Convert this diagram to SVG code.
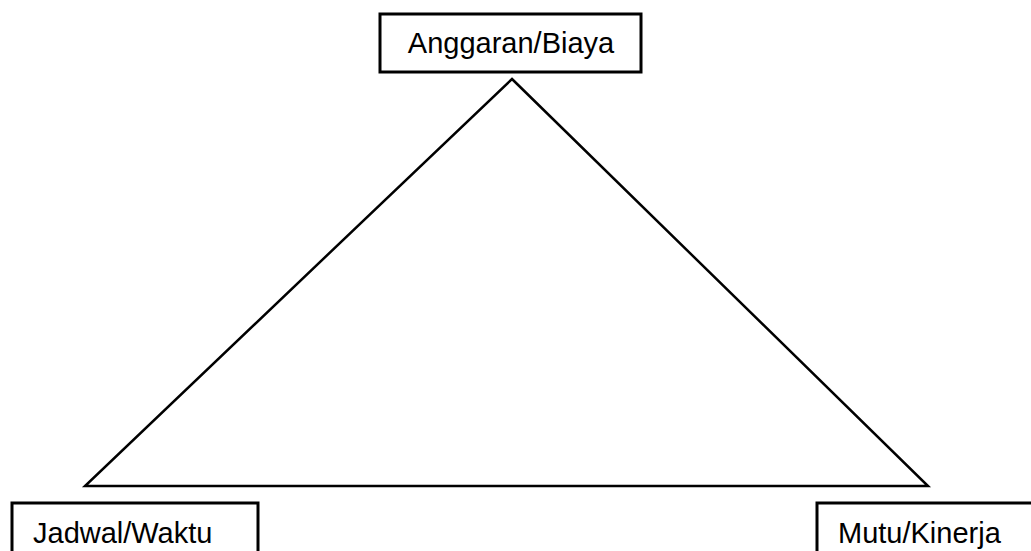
<svg xmlns="http://www.w3.org/2000/svg" width="1031" height="551" viewBox="0 0 1031 551">
<style>
.box{fill:#fff;stroke:#000;stroke-width:3}
.lbl{font-family:"Liberation Sans",Arial,sans-serif;font-size:29px;fill:#000}
.edge{stroke:#000;stroke-width:2.5;fill:none;stroke-linecap:round;stroke-linejoin:miter}
</style>
<rect width="1031" height="551" fill="#fff"/>
<g id="connectors">
<polygon class="edge" points="512,79 928,486 85,486"/>
</g>
<g id="node-anggaran">
<rect class="box" x="380" y="14" width="261" height="58"/>
<text class="lbl" x="511" y="53" text-anchor="middle">Anggaran/Biaya</text>
</g>
<g id="node-jadwal">
<rect class="box" x="12" y="503" width="246" height="60"/>
<text class="lbl" x="33" y="543">Jadwal/Waktu</text>
</g>
<g id="node-mutu">
<rect class="box" x="817" y="503" width="230" height="60"/>
<text class="lbl" x="838" y="543">Mutu/Kinerja</text>
</g>
</svg>
